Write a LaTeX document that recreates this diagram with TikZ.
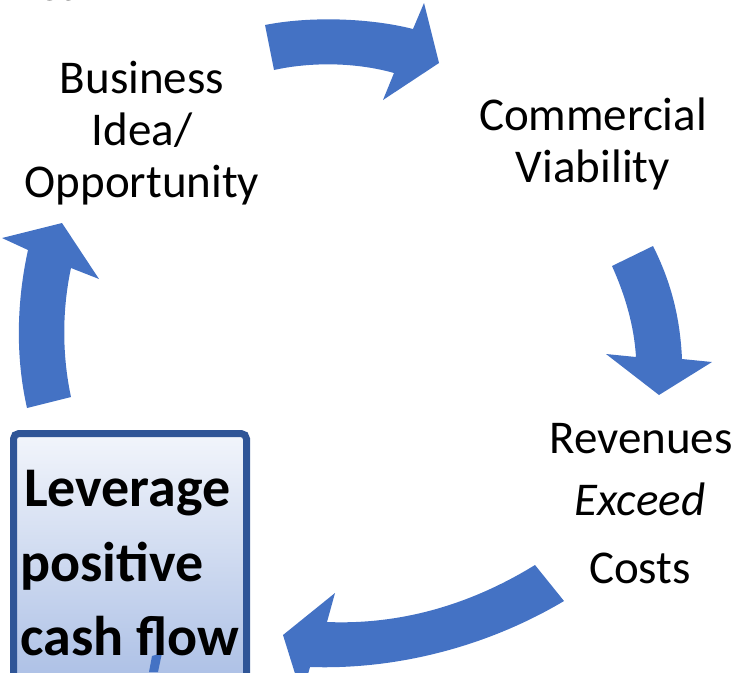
\documentclass[tikz,border=0pt]{standalone}
\usepackage{fontspec}
\setmainfont{Carlito}
\definecolor{arrowblue}{HTML}{4472C4}
\definecolor{boxborder}{HTML}{2F5597}
\definecolor{boxtop}{HTML}{F2F5FB}
\definecolor{boxbottom}{HTML}{A7BCE4}
\begin{document}
\begin{tikzpicture}[x=0.75pt,y=-0.75pt,
  blockarrow/.style={fill=arrowblue,draw=none},
  lbl/.style={inner sep=0pt,anchor=base,font=\fontsize{35.25}{39}\selectfont},
  boldlbl/.style={inner sep=0pt,anchor=base west,font=\fontsize{42}{50}\selectfont\bfseries}]
\useasboundingbox (0,0) rectangle (738,672);
\clip (0,0) rectangle (738,672);
% partially visible text at top
\node[lbl,anchor=base west] (toptext) at (18,0) {Tea};
% arrows
\fill[blockarrow] (265,25) .. controls (310,16) and (370,18) .. (413,29) -- (424,3) -- (439,63) -- (383,100) -- (394,73) .. controls (355,62) and (310,62) .. (274,70) -- cycle;
\fill[blockarrow] (612,266) .. controls (625,295) and (634,325) .. (636,357) -- (606,354) -- (659,395) -- (712,362) -- (682,359) .. controls (680,315) and (670,280) .. (653,246) -- cycle;
\fill[blockarrow] (535,565) .. controls (470,605) and (400,625) .. (327,622) -- (335,593) -- (283,635) -- (302,696) -- (310,667) .. controls (400,670) and (490,645) .. (564,601) -- cycle;
\fill[blockarrow] (27,408) .. controls (15,355) and (17,300) .. (28,250) -- (2,238) -- (62,223) -- (99,279) -- (71,268) .. controls (62,310) and (62,355) .. (71,397) -- cycle;
% box
\draw[draw=boxborder,line width=5.25pt,rounded corners=4pt,top color=boxtop,bottom color=boxbottom] (13.5,433.5) rectangle (246.5,700);
\fill[arrowblue] (152,656) -- (162,653) -- (158,672) -- (149,672) -- cycle;
% labels
\node[lbl] (bus1) at (142,93) {Business};
\node[lbl] (bus2) at (142,145) {Idea/};
\node[lbl] (bus3) at (142,197) {Opportunity};
\node[lbl] (com1) at (593,130) {Commercial};
\node[lbl] (com2) at (593,182) {Viability};
\node[lbl] (rev1) at (641,453) {Revenues};
\node[lbl] (rev2) at (640,515) {\itshape Exceed};
\node[lbl] (rev3) at (640,583) {Costs};
\node[boldlbl] (lev1) at (24,506) {Leverage};
\node[boldlbl] (lev2) at (20,581) {positive};
\node[boldlbl] (lev3) at (20,655) {cash flow};
\end{tikzpicture}
\end{document}
